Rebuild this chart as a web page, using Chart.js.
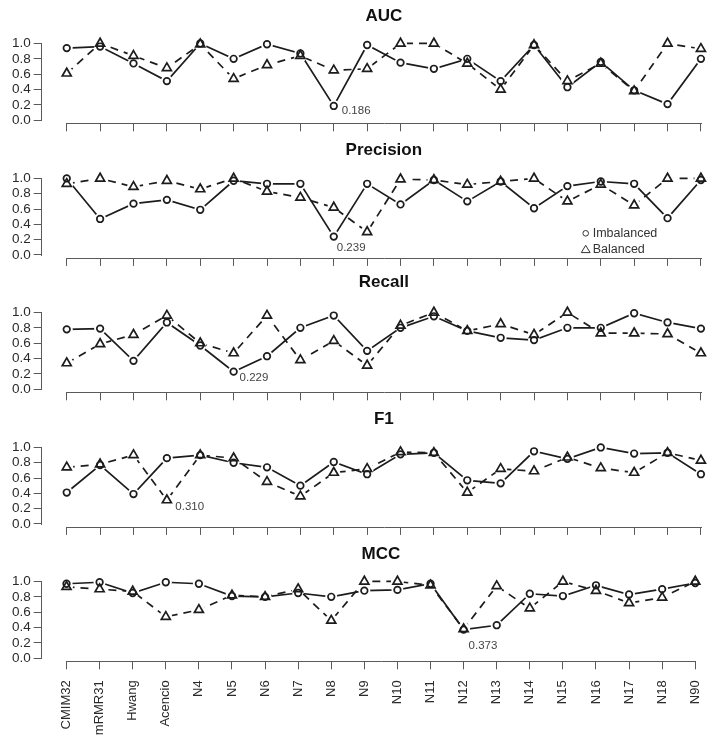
<!DOCTYPE html>
<html>
<head>
<meta charset="utf-8">
<script src="https://cdn.jsdelivr.net/npm/chart.js@4/dist/chart.umd.min.js"></script>
<style>
  body { margin: 0; width: 722px; height: 745px; overflow: hidden; background: #fff; position: relative; }
  canvas { position: absolute; left: 0; }
</style>
</head>
<body>
<script>
// categories and tick values
const categories = ['CMIM32', 'mRMR31', 'Hwang', 'Acencio', 'N4', 'N5', 'N6', 'N7', 'N8', 'N9',
  'N10', 'N11', 'N12', 'N13', 'N14', 'N15', 'N16', 'N17', 'N18', 'N90'];
const yTicks = [0, 0.2, 0.4, 0.6, 0.8, 1.0];
const seriesNames = ['Imbalanced', 'Balanced'];

// values (circle = imbalanced, triangle = balanced)
const aucImbalanced = [0.94, 0.96, 0.74, 0.51, 1.00, 0.80, 0.99, 0.87, 0.186, 0.98, 0.75, 0.67, 0.80, 0.51, 0.98, 0.43, 0.76, 0.39, 0.21, 0.80];
const aucBalanced = [0.61, 1.00, 0.84, 0.68, 0.99, 0.54, 0.72, 0.84, 0.65, 0.67, 1.00, 1.00, 0.74, 0.40, 0.98, 0.51, 0.74, 0.38, 1.00, 0.93];
const precisionImbalanced = [1.00, 0.47, 0.67, 0.72, 0.59, 0.97, 0.93, 0.93, 0.239, 0.93, 0.66, 0.98, 0.70, 0.96, 0.61, 0.90, 0.96, 0.93, 0.48, 0.98];
const precisionBalanced = [0.93, 1.00, 0.89, 0.97, 0.86, 1.00, 0.83, 0.75, 0.62, 0.30, 0.99, 0.98, 0.92, 0.96, 1.00, 0.70, 0.92, 0.65, 1.00, 1.00];
const recallImbalanced = [0.78, 0.79, 0.37, 0.87, 0.57, 0.229, 0.43, 0.80, 0.96, 0.50, 0.80, 0.95, 0.76, 0.67, 0.64, 0.80, 0.80, 0.99, 0.87, 0.79];
const recallBalanced = [0.34, 0.59, 0.71, 0.96, 0.60, 0.47, 0.96, 0.38, 0.63, 0.31, 0.83, 1.00, 0.76, 0.85, 0.71, 1.00, 0.73, 0.73, 0.72, 0.47];
const f1Imbalanced = [0.41, 0.77, 0.39, 0.86, 0.90, 0.80, 0.74, 0.50, 0.81, 0.65, 0.91, 0.93, 0.57, 0.53, 0.95, 0.85, 1.00, 0.92, 0.93, 0.65];
const f1Balanced = [0.74, 0.78, 0.90, 0.310, 0.90, 0.86, 0.55, 0.36, 0.67, 0.72, 0.94, 0.93, 0.41, 0.72, 0.69, 0.87, 0.73, 0.67, 0.93, 0.83];
const mccImbalanced = [0.97, 0.99, 0.85, 0.99, 0.97, 0.81, 0.80, 0.85, 0.80, 0.88, 0.89, 0.97, 0.373, 0.43, 0.84, 0.81, 0.95, 0.83, 0.90, 0.98];
const mccBalanced = [0.93, 0.90, 0.87, 0.54, 0.63, 0.82, 0.80, 0.90, 0.49, 1.00, 1.00, 0.95, 0.38, 0.94, 0.65, 1.00, 0.88, 0.72, 0.79, 1.00];

// panel layout (pixels relative to each panel)
const panels = [
  { title: 'AUC', series: [aucImbalanced, aucBalanced], top: 0, height: 135, titleY: 16, note: { s: 0, i: 8, dx: 8, dy: 4.5 } },
  { title: 'Precision', series: [precisionImbalanced, precisionBalanced], top: 135, height: 134, titleY: 15.5, note: { s: 0, i: 8, dx: 3, dy: 11.5 }, legend: true },
  { title: 'Recall', series: [recallImbalanced, recallBalanced], top: 269, height: 135, titleY: 13.5, note: { s: 0, i: 5, dx: 6, dy: 6.5 } },
  { title: 'F1', series: [f1Imbalanced, f1Balanced], top: 404, height: 134, titleY: 15, note: { s: 1, i: 3, dx: 8.5, dy: 7 } },
  { title: 'MCC', series: [mccImbalanced, mccBalanced], top: 538, height: 207, titleY: 16, note: { s: 0, i: 12, dx: 5, dy: 16 }, labels: true },
];

const FONT = '"Liberation Sans", Arial, Helvetica, sans-serif';
const ink = '#1c1c1c';
const axisColor = '#5a5a5a';
const textColor = '#2a2a2a';
const plotTop = 40.4;     // y of 1.04 inside a panel
const plotBottom = 123.3; // y of -0.04 inside a panel

Chart.defaults.font.family = FONT;

// R-like decorations: short axis lines, titles, min-value notes, legend
const rStyle = {
  id: 'rStyle',
  afterDraw(chart, args, opts) {
    const { ctx, chartArea, scales: { x, y } } = chart;
    const p = opts.panel;
    ctx.save();
    ctx.strokeStyle = axisColor;
    ctx.lineWidth = 1;
    ctx.beginPath();
    const yb = Math.round(chartArea.bottom) + 0.5;
    ctx.moveTo(Math.round(x.getPixelForValue(0)), yb);
    ctx.lineTo(Math.round(x.getPixelForValue(categories.length - 1)) + 1, yb);
    const xl = Math.round(chartArea.left) - 0.5;
    ctx.moveTo(xl, Math.round(y.getPixelForValue(yTicks[0])) + 1);
    ctx.lineTo(xl, Math.round(y.getPixelForValue(yTicks[yTicks.length - 1])));
    ctx.stroke();

    ctx.fillStyle = '#111';
    ctx.font = 'bold 17px ' + FONT;
    ctx.textAlign = 'center';
    ctx.textBaseline = 'middle';
    ctx.fillText(p.title, x.getPixelForValue((categories.length - 1) / 2), p.titleY);

    const n = p.note;
    const v = p.series[n.s][n.i];
    ctx.fillStyle = '#444';
    ctx.font = '11.5px ' + FONT;
    ctx.textAlign = 'left';
    ctx.fillText(v.toFixed(3), x.getPixelForValue(n.i) + n.dx, y.getPixelForValue(v) + n.dy);

    if (p.legend) {
      const lx = 585.7, ly = [98.3, 114.3];
      ctx.strokeStyle = '#333';
      ctx.lineWidth = 1;
      ctx.beginPath();
      ctx.arc(lx, ly[0], 2.8, 0, Math.PI * 2);
      ctx.stroke();
      ctx.beginPath();
      ctx.moveTo(lx, ly[1] - 4);
      ctx.lineTo(lx + 4.4, ly[1] + 3.3);
      ctx.lineTo(lx - 4.4, ly[1] + 3.3);
      ctx.closePath();
      ctx.stroke();
      ctx.fillStyle = '#333';
      ctx.font = '12.5px ' + FONT;
      seriesNames.forEach((s, k) => ctx.fillText(s, lx + 7, ly[k]));
    }
    ctx.restore();
  },
};

panels.forEach((p) => {
  const canvas = document.createElement('canvas');
  canvas.width = 722;
  canvas.height = p.height;
  canvas.style.top = p.top + 'px';
  document.body.appendChild(canvas);

  const pts = (arr) => arr.map((v, i) => ({ x: i, y: v }));
  const [imb, bal] = p.series;

  new Chart(canvas.getContext('2d'), {
    type: 'line',
    data: {
      datasets: [
        { label: 'Imbalanced line', data: pts(imb), borderColor: ink, borderWidth: 1.7, pointRadius: 0, order: 6, clip: false },
        { label: 'Imbalanced gap', data: pts(imb), showLine: false, pointRadius: 6, pointBackgroundColor: '#fff', pointBorderWidth: 0, order: 5, clip: false },
        { label: 'Balanced line', data: pts(bal), borderColor: ink, borderWidth: 1.7, borderDash: [8, 6], pointRadius: 0, order: 4, clip: false },
        { label: 'Balanced gap', data: pts(bal), showLine: false, pointRadius: 6.5, pointBackgroundColor: '#fff', pointBorderWidth: 0, order: 3, clip: false },
        { label: 'Imbalanced', data: pts(imb), showLine: false, pointStyle: 'circle', pointRadius: 3.3, pointBorderWidth: 1.7, pointBorderColor: ink, pointBackgroundColor: 'rgba(0,0,0,0)', order: 2, clip: false },
        { label: 'Balanced', data: pts(bal), showLine: false, pointStyle: 'triangle', pointRadius: 5.2, pointBorderWidth: 1.7, pointBorderColor: ink, pointBackgroundColor: 'rgba(0,0,0,0)', order: 1, clip: false },
      ],
    },
    options: {
      responsive: false,
      animation: false,
      events: [],
      layout: { padding: { top: plotTop, left: 0, right: 0, bottom: 0 } },
      plugins: {
        legend: { display: false },
        tooltip: { enabled: false },
        rStyle: { panel: p },
      },
      scales: {
        x: {
          type: 'linear',
          min: -0.75,
          max: 19.425,
          afterBuildTicks: (scale) => { scale.ticks = categories.map((c, i) => ({ value: i })); },
          afterFit: (scale) => { scale.height = p.height - plotBottom; },
          border: { display: false },
          grid: { drawOnChartArea: false, drawTicks: true, tickLength: 8, color: axisColor, lineWidth: 1 },
          ticks: {
            display: !!p.labels,
            autoSkip: false,
            minRotation: 90,
            maxRotation: 90,
            padding: 11,
            color: textColor,
            font: { size: 13 },
            callback: (v) => categories[v],
          },
        },
        y: {
          min: -0.04,
          max: 1.04,
          afterBuildTicks: (scale) => { scale.ticks = yTicks.map((v) => ({ value: v })); },
          afterFit: (scale) => { scale.width = 41.7; },
          border: { display: false },
          grid: { drawOnChartArea: false, drawTicks: true, tickLength: 8, color: axisColor, lineWidth: 1 },
          ticks: {
            autoSkip: false,
            padding: 3,
            color: textColor,
            font: { size: 13.5 },
            callback: (v) => v.toFixed(1),
          },
        },
      },
    },
    plugins: [rStyle],
  });
});
</script>
</body>
</html>
